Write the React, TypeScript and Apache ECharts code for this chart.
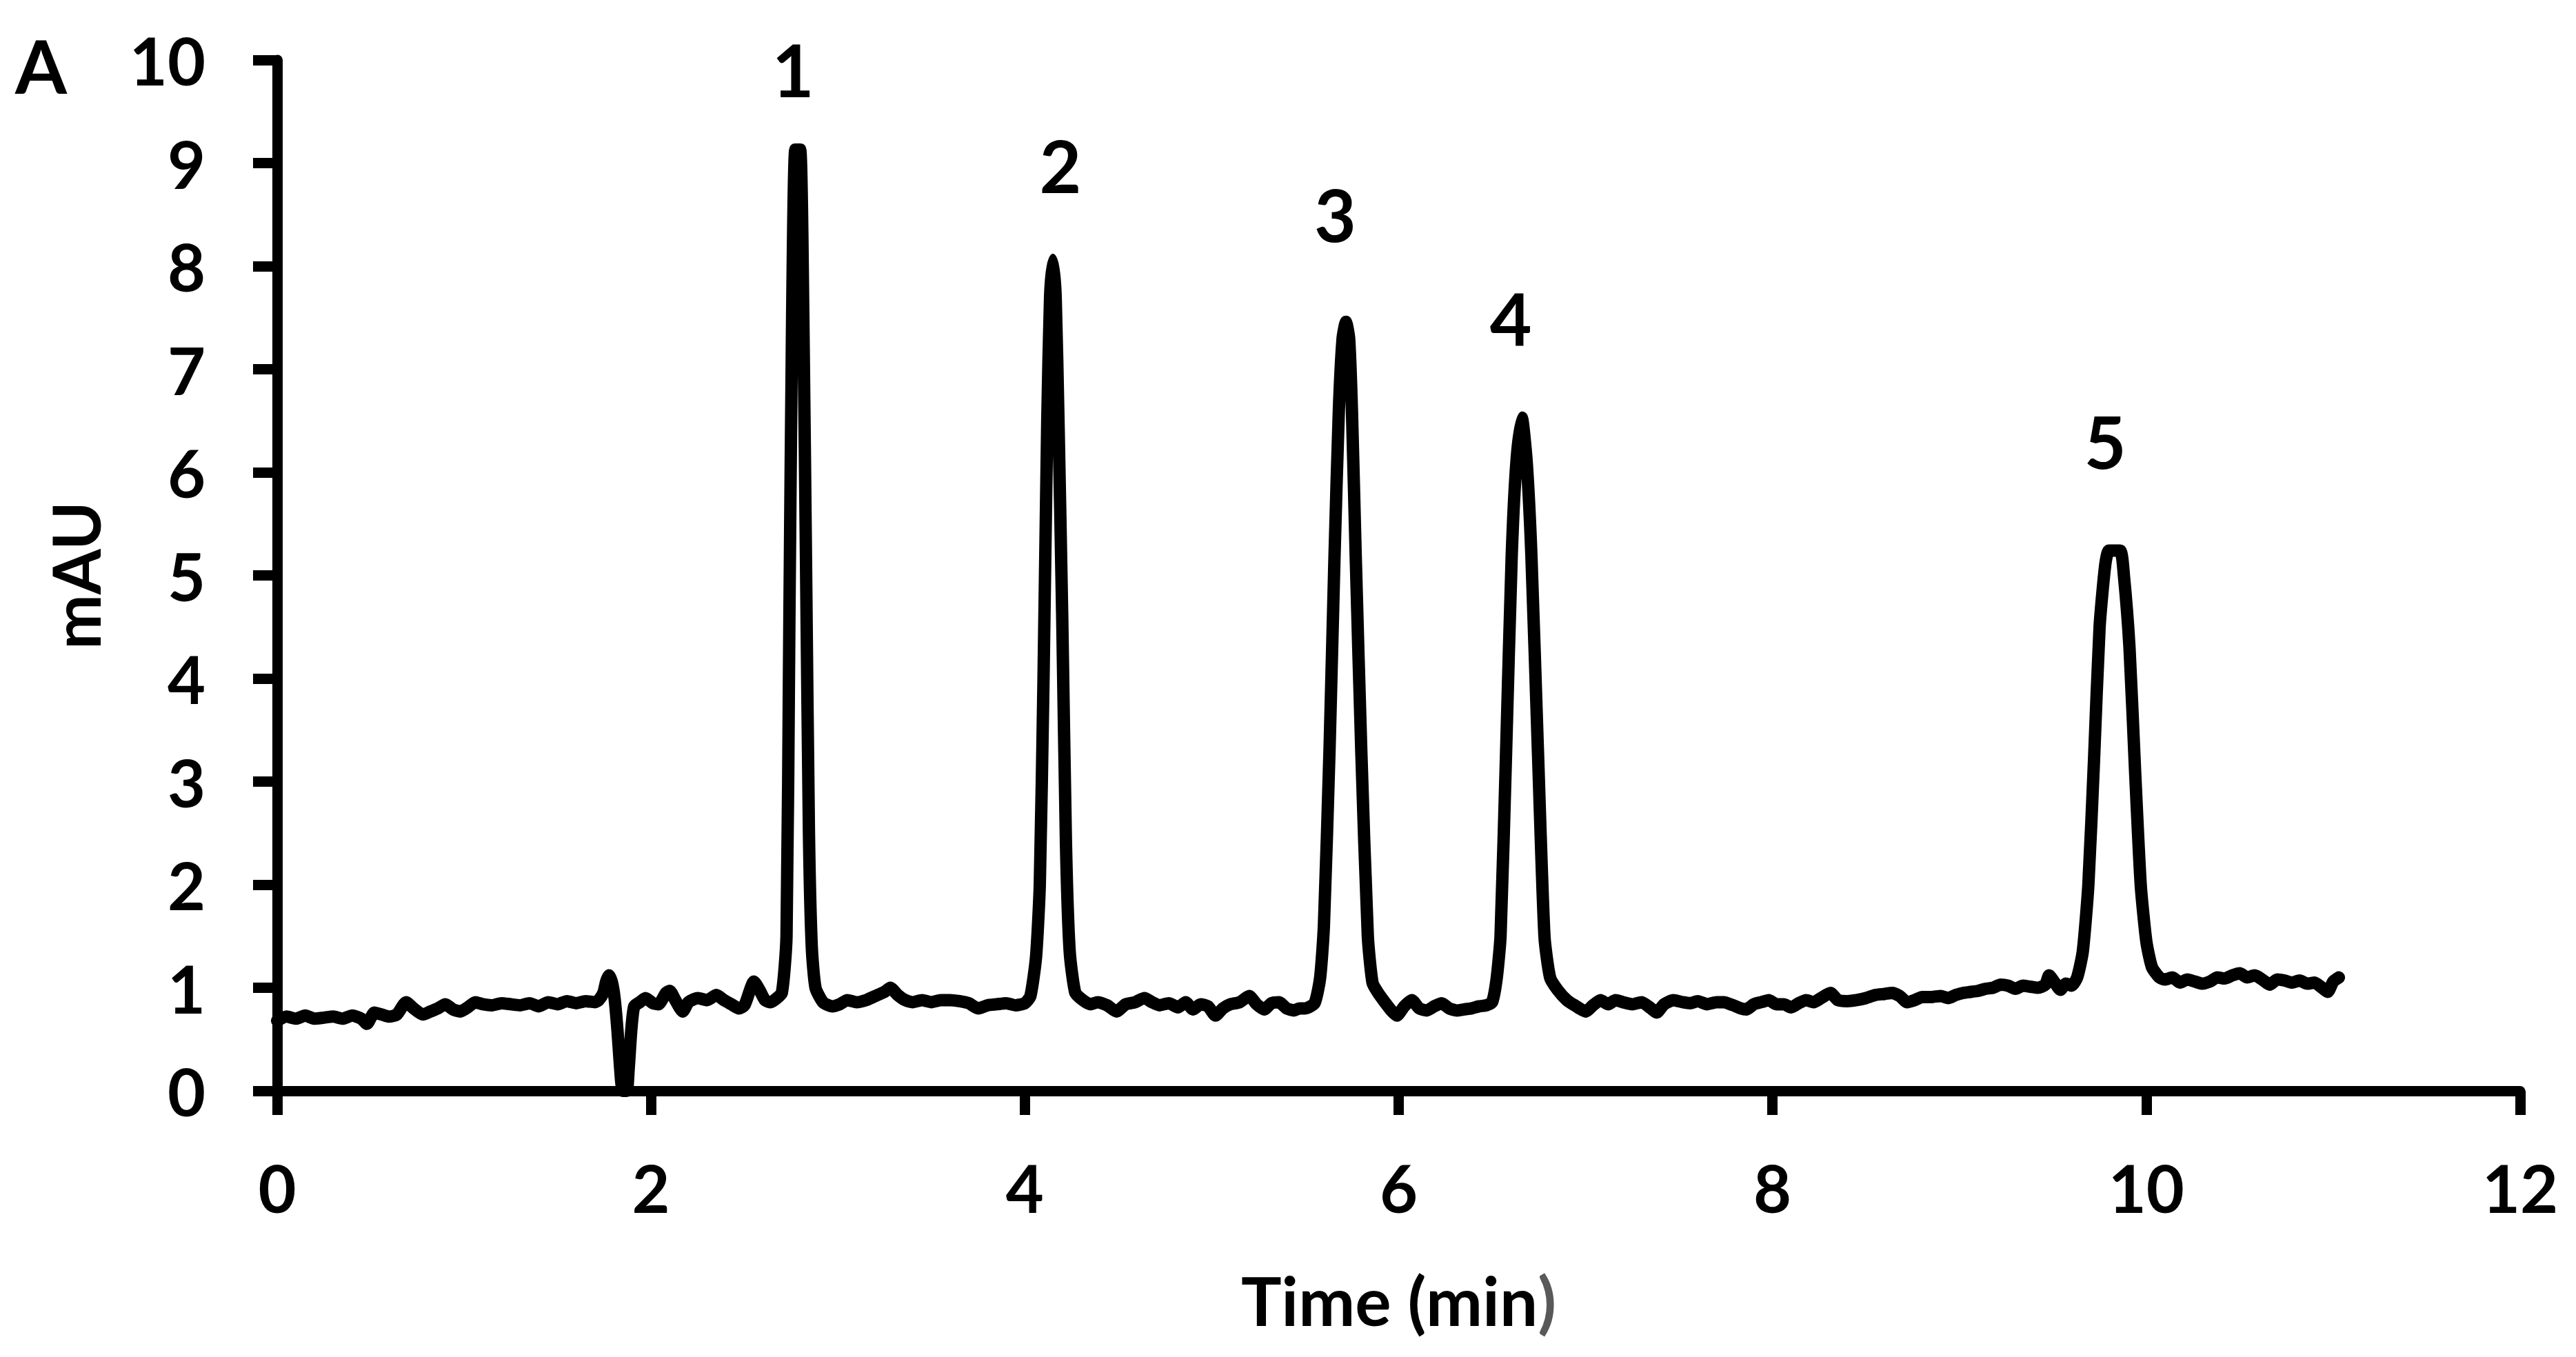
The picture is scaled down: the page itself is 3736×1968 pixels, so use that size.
import React, { useEffect, useRef } from "react";
import * as echarts from "echarts";

// ---- data (time in min, signal in mAU) ----
const baselineStart: number[][] = [
  [0.0, 0.68], [0.05, 0.72], [0.1, 0.7], [0.15, 0.73], [0.2, 0.7], [0.25, 0.71], [0.3, 0.72],
  [0.35, 0.7], [0.4, 0.73], [0.45, 0.7], [0.48, 0.65], [0.52, 0.76], [0.56, 0.74], [0.6, 0.72],
  [0.64, 0.74], [0.69, 0.86], [0.73, 0.8], [0.78, 0.74], [0.82, 0.77], [0.86, 0.8], [0.9, 0.84],
  [0.94, 0.79], [0.98, 0.77], [1.02, 0.81], [1.06, 0.86], [1.1, 0.84], [1.15, 0.83], [1.2, 0.85],
  [1.25, 0.84], [1.3, 0.83], [1.35, 0.85], [1.4, 0.82], [1.45, 0.86], [1.5, 0.84], [1.55, 0.87],
  [1.6, 0.85], [1.65, 0.87], [1.7, 0.86], [1.72, 0.88],
];
const injectionDip: number[][] = [
  [1.745, 0.95], [1.76, 1.06], [1.775, 1.12], [1.79, 1.06], [1.805, 0.9], [1.82, 0.6],
  [1.84, 0.1], [1.85, 0.0], [1.87, 0.0], [1.88, 0.2], [1.895, 0.6], [1.91, 0.82],
];
const baselineB: number[][] = [
  [1.94, 0.86], [1.97, 0.9], [2.01, 0.85], [2.04, 0.84], [2.08, 0.95], [2.1, 0.97], [2.13, 0.88],
  [2.17, 0.77], [2.2, 0.86], [2.25, 0.9], [2.3, 0.88], [2.35, 0.93], [2.39, 0.88], [2.43, 0.84],
  [2.47, 0.8], [2.5, 0.83], [2.53, 0.98], [2.55, 1.06], [2.58, 0.98], [2.61, 0.88], [2.64, 0.86],
];
const peak1: number[][] = [
  [2.66, 0.88], [2.7, 0.95], [2.725, 1.5], [2.74, 4.5], [2.755, 7.5], [2.772, 9.13],
  [2.798, 9.13], [2.815, 7.5], [2.83, 5.0], [2.845, 2.5], [2.86, 1.4], [2.88, 1.0], [2.92, 0.86],
];
const baselineC: number[][] = [
  [2.97, 0.82], [3.01, 0.84], [3.05, 0.88], [3.1, 0.86], [3.15, 0.88], [3.2, 0.92], [3.25, 0.96],
  [3.28, 1.0], [3.32, 0.93], [3.36, 0.88], [3.4, 0.86], [3.45, 0.88], [3.5, 0.86], [3.55, 0.88],
  [3.6, 0.88], [3.65, 0.87], [3.7, 0.85], [3.75, 0.8], [3.8, 0.83], [3.85, 0.84], [3.9, 0.85],
  [3.95, 0.83],
];
const peak2: number[][] = [
  [4.0, 0.85], [4.03, 0.92], [4.06, 1.3], [4.08, 2.0], [4.1, 4.0], [4.12, 6.5], [4.135, 7.7],
  [4.15, 8.06], [4.165, 7.7], [4.18, 6.5], [4.2, 4.6], [4.22, 2.4], [4.24, 1.35], [4.27, 0.95],
  [4.31, 0.88],
];
const baselineD: number[][] = [
  [4.35, 0.84], [4.39, 0.86], [4.44, 0.83], [4.49, 0.77], [4.54, 0.84], [4.59, 0.86], [4.64, 0.9],
  [4.68, 0.86], [4.72, 0.83], [4.77, 0.85], [4.82, 0.81], [4.86, 0.86], [4.9, 0.79], [4.94, 0.84],
  [4.98, 0.82], [5.02, 0.73], [5.06, 0.8], [5.1, 0.84], [5.15, 0.86], [5.2, 0.92], [5.24, 0.84],
  [5.28, 0.79], [5.32, 0.85], [5.36, 0.86], [5.4, 0.8], [5.44, 0.78], [5.47, 0.8],
];
const peak3: number[][] = [
  [5.5, 0.8], [5.55, 0.85], [5.58, 1.1], [5.6, 1.6], [5.63, 3.3], [5.657, 5.2], [5.68, 6.6],
  [5.7, 7.3], [5.718, 7.46], [5.735, 7.3], [5.75, 6.6], [5.77, 5.2], [5.8, 3.3], [5.835, 1.5],
  [5.86, 1.05], [5.89, 0.95], [5.93, 0.85],
];
const baselineE: number[][] = [
  [5.96, 0.78], [5.99, 0.73], [6.03, 0.82], [6.07, 0.88], [6.11, 0.8], [6.15, 0.78], [6.19, 0.82],
  [6.23, 0.85], [6.27, 0.8], [6.31, 0.78], [6.35, 0.79], [6.39, 0.8], [6.43, 0.82],
];
const peak4: number[][] = [
  [6.47, 0.83], [6.5, 0.86], [6.525, 1.1], [6.545, 1.5], [6.575, 3.3], [6.605, 5.2], [6.63, 6.1],
  [6.659, 6.53], [6.685, 6.1], [6.71, 5.2], [6.745, 3.3], [6.78, 1.5], [6.81, 1.1], [6.85, 0.98],
  [6.9, 0.88],
];
const baselineF: number[][] = [
  [6.95, 0.82], [7.0, 0.77], [7.04, 0.83], [7.08, 0.88], [7.12, 0.84], [7.16, 0.88], [7.2, 0.86],
  [7.25, 0.84], [7.3, 0.86], [7.35, 0.8], [7.38, 0.76], [7.42, 0.84], [7.47, 0.88], [7.52, 0.86],
  [7.56, 0.85], [7.6, 0.87], [7.65, 0.84], [7.7, 0.86], [7.74, 0.86], [7.79, 0.83], [7.83, 0.8],
  [7.86, 0.79], [7.9, 0.84], [7.94, 0.86], [7.98, 0.88], [8.02, 0.84], [8.06, 0.84], [8.1, 0.81],
  [8.14, 0.85], [8.18, 0.88], [8.22, 0.86], [8.26, 0.9], [8.31, 0.95], [8.35, 0.88], [8.4, 0.87],
  [8.45, 0.88], [8.5, 0.9], [8.55, 0.93], [8.6, 0.94], [8.64, 0.95], [8.68, 0.92], [8.72, 0.86],
  [8.76, 0.88], [8.8, 0.91], [8.85, 0.91], [8.9, 0.92], [8.94, 0.9], [8.98, 0.93], [9.02, 0.95],
  [9.06, 0.96], [9.1, 0.97], [9.14, 0.99], [9.18, 1.0], [9.22, 1.03], [9.26, 1.02], [9.3, 0.99],
  [9.34, 1.02], [9.38, 1.01], [9.42, 1.0], [9.46, 1.03], [9.48, 1.12], [9.51, 1.05], [9.54, 0.98],
  [9.57, 1.04],
];
const peak5: number[][] = [
  [9.6, 1.02], [9.63, 1.1], [9.66, 1.35], [9.69, 2.0], [9.72, 3.2], [9.75, 4.5], [9.78, 5.1],
  [9.8, 5.24], [9.86, 5.24], [9.88, 5.0], [9.91, 4.3], [9.94, 3.1], [9.97, 2.0], [10.0, 1.45],
  [10.03, 1.2], [10.07, 1.1],
];
const baselineEnd: number[][] = [
  [10.1, 1.08], [10.14, 1.1], [10.18, 1.05], [10.22, 1.08], [10.26, 1.06], [10.3, 1.04],
  [10.34, 1.06], [10.38, 1.1], [10.42, 1.09], [10.46, 1.12], [10.5, 1.14], [10.54, 1.1],
  [10.58, 1.12], [10.62, 1.08], [10.66, 1.03], [10.7, 1.08], [10.74, 1.07], [10.78, 1.05],
  [10.82, 1.07], [10.86, 1.04], [10.9, 1.05], [10.94, 1.0], [10.97, 0.96], [11.0, 1.06],
  [11.03, 1.1],
];

const peakLabels: string[] = ["1", "2", "3", "4", "5"];
const peakLabelTime: number[] = [2.76, 4.19, 5.66, 6.6, 9.78];
const peakLabelSignal: number[] = [9.91, 8.98, 8.51, 7.5, 6.31];

const panelLabel = "A";
const xAxisTitle = "Time (min";
const xAxisTitleEnd = ")";
const yAxisTitle = "mAU";

const FONT = "Lato, 'Open Sans', sans-serif";

export default function App() {
  const ref = useRef<HTMLDivElement>(null);

  useEffect(() => {
    if (!ref.current) return;
    const chart = echarts.init(ref.current, undefined, { renderer: "svg" });
    const trace = [
      ...baselineStart, ...injectionDip, ...baselineB, ...peak1, ...baselineC, ...peak2,
      ...baselineD, ...peak3, ...baselineE, ...peak4, ...baselineF, ...peak5, ...baselineEnd,
    ];
    const labelData = peakLabels.map((name, i) => ({
      name,
      value: [peakLabelTime[i], peakLabelSignal[i]],
    }));
    const axisCommon = {
      axisLine: { show: true, lineStyle: { color: "#000", width: 15 } },
      axisTick: { show: true, length: 35, lineStyle: { color: "#000", width: 15 } },
      splitLine: { show: false },
      axisLabel: {
        color: "#000",
        fontFamily: FONT,
        fontWeight: "bold" as const,
        fontSize: 95,
      },
    };
    chart.setOption({
      animation: false,
      backgroundColor: "#fff",
      grid: { left: 402, right: 81, top: 87, bottom: 386, containLabel: false },
      xAxis: {
        type: "value",
        min: 0,
        max: 12,
        interval: 2,
        ...axisCommon,
        axisLabel: { ...axisCommon.axisLabel, margin: 92 },
        name: `{a|${xAxisTitle}}{b|${xAxisTitleEnd}}`,
        nameLocation: "middle",
        nameGap: 254,
        nameTextStyle: {
          rich: {
            a: { color: "#000", fontFamily: FONT, fontWeight: "bold", fontSize: 98 },
            b: { color: "#595959", fontFamily: FONT, fontWeight: "bold", fontSize: 98 },
          },
        },
      },
      yAxis: {
        type: "value",
        min: 0,
        max: 10,
        interval: 1,
        ...axisCommon,
        axisLabel: { ...axisCommon.axisLabel, margin: 104 },
        name: yAxisTitle,
        nameLocation: "middle",
        nameRotate: 90,
        nameGap: 246,
        nameTextStyle: { color: "#000", fontFamily: FONT, fontWeight: "bold", fontSize: 95 },
      },
      graphic: [
        {
          type: "text",
          left: 22,
          top: 40,
          style: {
            text: panelLabel,
            fill: "#000",
            font: `bold 108px ${FONT}`,
          },
        },
      ],
      series: [
        {
          type: "line",
          data: trace,
          showSymbol: false,
          symbol: "none",
          smooth: 0.2,
          lineStyle: { color: "#000", width: 18, join: "round", cap: "round" },
          z: 3,
        },
        {
          type: "scatter",
          data: labelData,
          symbolSize: 0,
          itemStyle: { color: "#000" },
          label: {
            show: true,
            position: [0, 0],
            align: "center",
            verticalAlign: "middle",
            formatter: "{b}",
            color: "#000",
            opacity: 1,
            fontFamily: FONT,
            fontWeight: "bold",
            fontSize: 105,
          },
          emphasis: { disabled: true },
          z: 4,
        },
      ],
    });
    return () => chart.dispose();
  }, []);

  return (
    <div
      ref={ref}
      style={{ position: "absolute", left: 0, top: 0, width: 3736, height: 1968 }}
    />
  );
}
